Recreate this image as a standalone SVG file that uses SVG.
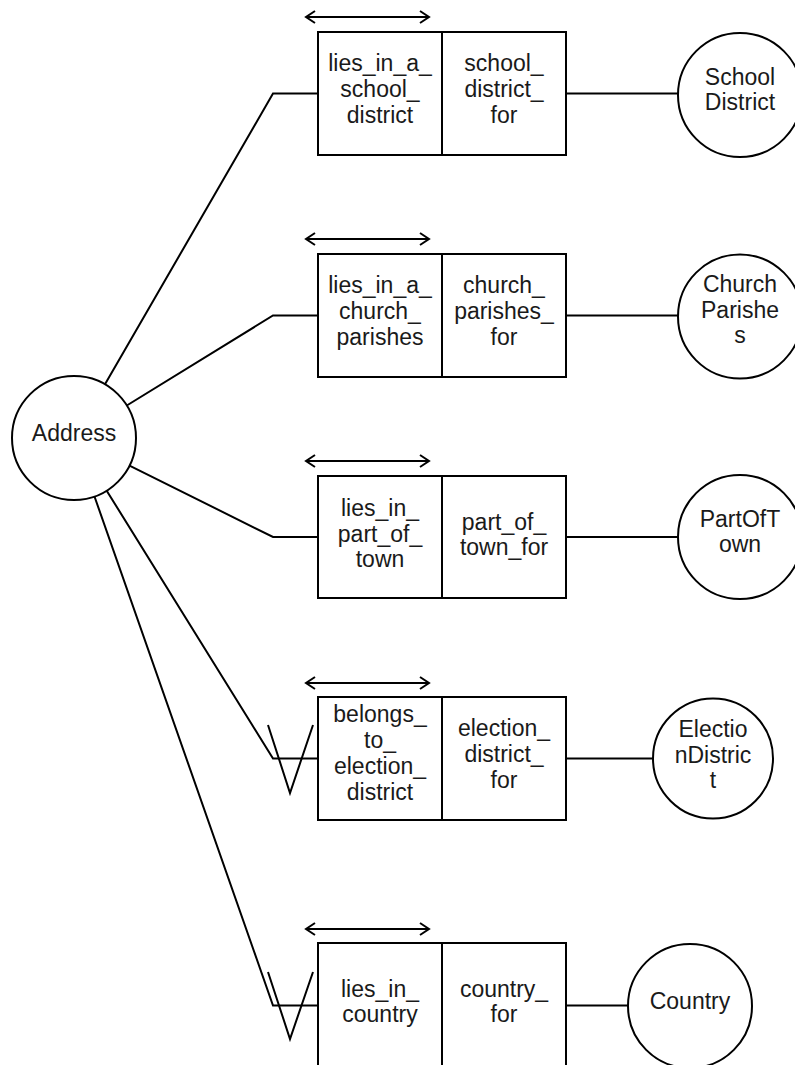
<svg xmlns="http://www.w3.org/2000/svg" width="795" height="1065" viewBox="0 0 795 1065">
<style>
.shape{fill:#fff;stroke:#000;stroke-width:2}
.ln{fill:none;stroke:#000;stroke-width:2}
.t{font-family:"Liberation Sans",Arial,sans-serif;font-size:23px;fill:#1a1a1a;text-anchor:middle}
</style>
<defs>
<marker id="chev" viewBox="-12 -8 14 16" markerWidth="14" markerHeight="16" refX="0" refY="0" orient="auto-start-reverse" markerUnits="userSpaceOnUse">
<path d="M-9,-6 L0,0 L-9,6" fill="none" stroke="#000" stroke-width="2"/>
</marker>
</defs>
<rect width="795" height="1065" fill="#fff"/>
<g id="connectors">
<polyline class="ln" points="105,384.3 273,93.5 318,93.5"/>
<polyline class="ln" points="126.8,405.5 273,315.5 318,315.5"/>
<polyline class="ln" points="129.5,465.6 273,537 318,537"/>
<polyline class="ln" points="106.7,490.7 273,758.5 318,758.5"/>
<polyline class="ln" points="94.5,496.5 273,1005.5 318,1005.5"/>
<polyline class="ln" points="268,725 290,793 313,725"/>
<polyline class="ln" points="268,972 290,1039 313,972"/>
<line class="ln" x1="566" y1="93.5" x2="678" y2="93.5"/>
<line class="ln" x1="566" y1="315.5" x2="678" y2="315.5"/>
<line class="ln" x1="566" y1="537" x2="678" y2="537"/>
<line class="ln" x1="566" y1="758.5" x2="653" y2="758.5"/>
<line class="ln" x1="566" y1="1005.5" x2="628" y2="1005.5"/>
<line class="ln" x1="306" y1="17" x2="429" y2="17" marker-start="url(#chev)" marker-end="url(#chev)"/>
<line class="ln" x1="306" y1="239" x2="429" y2="239" marker-start="url(#chev)" marker-end="url(#chev)"/>
<line class="ln" x1="306" y1="461" x2="429" y2="461" marker-start="url(#chev)" marker-end="url(#chev)"/>
<line class="ln" x1="306" y1="683" x2="429" y2="683" marker-start="url(#chev)" marker-end="url(#chev)"/>
<line class="ln" x1="306" y1="929" x2="429" y2="929" marker-start="url(#chev)" marker-end="url(#chev)"/>
</g>
<g id="address">
<circle class="shape" cx="74" cy="438" r="62"/>
<text class="t" x="74" y="441">Address</text>
</g>
<g id="rel-school">
<rect class="shape" x="318" y="32" width="124" height="123"/>
<rect class="shape" x="442" y="32" width="124" height="123"/>
<text class="t" x="380" y="71">lies_in_a_</text>
<text class="t" x="380" y="97">school_</text>
<text class="t" x="380" y="123">district</text>
<text class="t" x="504" y="71">school_</text>
<text class="t" x="504" y="97">district_</text>
<text class="t" x="504" y="123">for</text>
</g>
<g id="school-district">
<circle class="shape" cx="740" cy="95" r="62"/>
<text class="t" x="740" y="85">School</text>
<text class="t" x="740" y="110">District</text>
</g>
<g id="rel-church">
<rect class="shape" x="318" y="254" width="124" height="123"/>
<rect class="shape" x="442" y="254" width="124" height="123"/>
<text class="t" x="380" y="293">lies_in_a_</text>
<text class="t" x="380" y="319">church_</text>
<text class="t" x="380" y="345">parishes</text>
<text class="t" x="504" y="293">church_</text>
<text class="t" x="504" y="319">parishes_</text>
<text class="t" x="504" y="345">for</text>
</g>
<g id="church-parishes">
<circle class="shape" cx="740" cy="316.5" r="62"/>
<text class="t" x="740" y="292">Church</text>
<text class="t" x="740" y="318">Parishe</text>
<text class="t" x="740" y="343">s</text>
</g>
<g id="rel-town">
<rect class="shape" x="318" y="476" width="124" height="122"/>
<rect class="shape" x="442" y="476" width="124" height="122"/>
<text class="t" x="380" y="516">lies_in_</text>
<text class="t" x="380" y="541.5">part_of_</text>
<text class="t" x="380" y="567">town</text>
<text class="t" x="504" y="530">part_of_</text>
<text class="t" x="504" y="555">town_for</text>
</g>
<g id="part-of-town">
<circle class="shape" cx="740" cy="537" r="62"/>
<text class="t" x="740" y="527">PartOfT</text>
<text class="t" x="740" y="552">own</text>
</g>
<g id="rel-election">
<rect class="shape" x="318" y="697" width="124" height="123"/>
<rect class="shape" x="442" y="697" width="124" height="123"/>
<text class="t" x="380" y="722">belongs_</text>
<text class="t" x="380" y="748">to_</text>
<text class="t" x="380" y="774">election_</text>
<text class="t" x="380" y="800">district</text>
<text class="t" x="504" y="736">election_</text>
<text class="t" x="504" y="762">district_</text>
<text class="t" x="504" y="788">for</text>
</g>
<g id="election-district">
<circle class="shape" cx="713" cy="758.5" r="60"/>
<text class="t" x="713" y="737">Electio</text>
<text class="t" x="713" y="763">nDistric</text>
<text class="t" x="713" y="788">t</text>
</g>
<g id="rel-country">
<rect class="shape" x="318" y="943" width="124" height="124"/>
<rect class="shape" x="442" y="943" width="124" height="124"/>
<text class="t" x="380" y="997">lies_in_</text>
<text class="t" x="380" y="1022">country</text>
<text class="t" x="504" y="997">country_</text>
<text class="t" x="504" y="1022">for</text>
</g>
<g id="country">
<circle class="shape" cx="690" cy="1006" r="62"/>
<text class="t" x="690" y="1009">Country</text>
</g>
</svg>
